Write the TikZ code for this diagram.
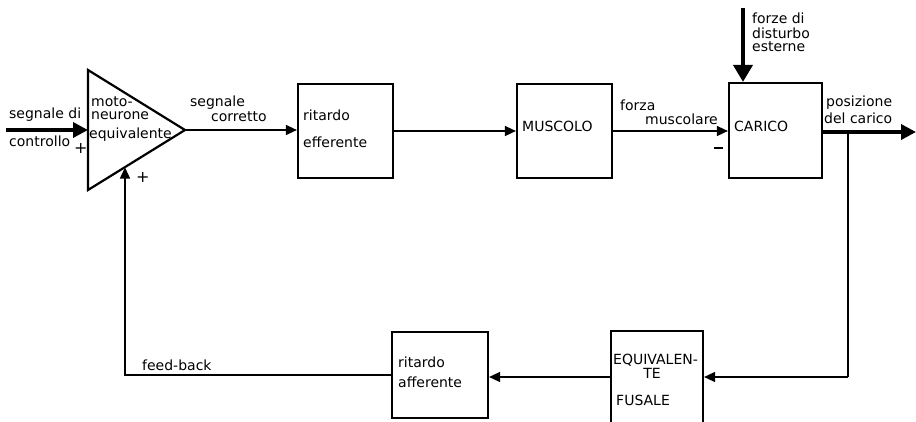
\documentclass[tikz,border=0pt]{standalone}
\usepackage{fontspec}
\setmainfont{DejaVu Sans}
\usetikzlibrary{arrows.meta}
\begin{document}
\begin{tikzpicture}[x=1pt,y=-1pt,
  blk/.style={draw,line width=2.2pt,inner sep=0pt,minimum width=95pt,minimum height=94pt},
  lab/.style={font=\fontsize{14}{14}\selectfont,inner sep=0pt,anchor=west},
  thinarr/.style={line width=1.5pt,-{Triangle[length=11pt,width=10pt]}},
  thinln/.style={line width=1.5pt},
  thickarr/.style={line width=3.5pt,-{Triangle[length=15pt,width=15pt]}},
  bigarr/.style={line width=4pt,-{Triangle[length=17pt,width=19pt]}}]
\useasboundingbox (0,0) rectangle (916,421);
% triangle (equivalent motoneuron)
\coordinate (ttop) at (88,70);
\coordinate (tbot) at (88,190);
\coordinate (tap) at (185,130);
\coordinate (tin) at (88,130);
\coordinate (tfb) at (125,167.5);
\draw[line width=2.2pt,line join=miter] (ttop) -- (tap) -- (tbot) -- cycle;
% boxes
\node[blk] (eff) at (345.5,131) {};
\node[blk] (mus) at (564.5,131) {};
\node[blk,minimum width=93pt,minimum height=95pt] (car) at (775.5,130.5) {};
\node[blk,minimum width=92pt,minimum height=100pt] (equ) at (657,381) {};
\node[blk,minimum width=96pt,minimum height=86pt] (aff) at (440,375) {};
% auxiliary points
\coordinate (in) at (6,130);
\coordinate (dist) at (743,8);
\coordinate (br) at (848,132);
\coordinate (brd) at (848,377);
\coordinate (out) at (916,132);
\coordinate (fbc) at (125,375);
% connectors
\draw[thickarr] (in) -- (tin);
\draw[thinarr] (tap) -- (tap -| eff.west);
\draw[thinarr] (eff.east) -- (mus.west);
\draw[thinarr] (mus.east) -- (mus.east -| car.west);
\draw[bigarr] (dist) -- (dist |- car.north);
\draw[thickarr] (br -| car.east) -- (out);
\draw[line width=2pt] (br) -- (brd);
\draw[thinarr] (brd) -- (brd -| equ.east);
\draw[thinarr] (equ.west |- brd) -- (aff.east |- brd);
\draw[thinarr] (aff.west) -- (fbc) -- (tfb);
% labels
\node[lab] (l1) at (9,115) {segnale di};
\node[lab] (l2) at (9,141) {controllo};
\node[lab,font=\fontsize{16}{16}\selectfont] (p1) at (74,148) {+};
\node[lab] (l3) at (91,102) {moto-};
\node[lab] (l4) at (91,116) {neurone};
\node[lab] (l5) at (89,135) {equivalente};
\node[lab,font=\fontsize{16}{16}\selectfont] (p2) at (136,177) {+};
\node[lab] (l6) at (190,103) {segnale};
\node[lab] (l7) at (211,117) {corretto};
\node[lab] (l8) at (303,115) {ritardo};
\node[lab] (l9) at (303,142) {efferente};
\node[lab] (l10) at (522,126) {MUSCOLO};
\node[lab] (l11) at (620,105) {forza};
\node[lab] (l12) at (645,119) {muscolare};
\draw[line width=1.8pt] (714,148) -- (723,148);
\node[lab] (l13) at (734,126) {CARICO};
\node[lab] (l14) at (752,18) {forze di};
\node[lab] (l15) at (752,33) {disturbo};
\node[lab] (l16) at (752,47) {esterne};
\node[lab] (l17) at (826,103) {posizione};
\node[lab] (l18) at (824,118) {del carico};
\node[lab] (l19) at (613,360) {EQUIVALEN-};
\node[lab,anchor=center] (l20) at (652,373) {TE};
\node[lab] (l21) at (616,400) {FUSALE};
\node[lab] (l22) at (398,362) {ritardo};
\node[lab] (l23) at (398,382) {afferente};
\node[lab] (l24) at (142,365) {feed-back};
\end{tikzpicture}
\end{document}
